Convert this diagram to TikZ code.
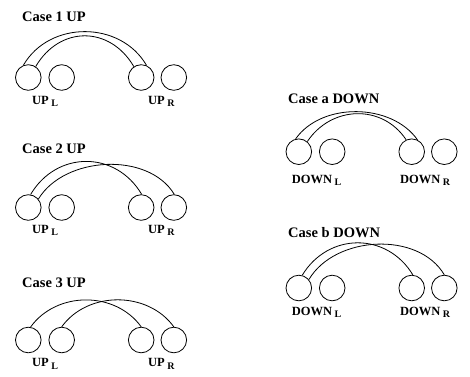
\documentclass[tikz,border=0pt]{standalone}
\usepackage{fontspec}
\setmainfont{Liberation Serif}
\newcommand\lowsub[1]{\hspace{2.5pt}\raisebox{-0.5ex}{\fontsize{10}{10}\selectfont #1}}
\begin{document}
\begin{tikzpicture}[x=1pt, y=-1pt,
    ring/.style={circle, draw, line width=0.8pt, minimum size=25.6pt, inner sep=0pt},
    casetitle/.style={anchor=base west, inner sep=0pt, font=\bfseries\fontsize{14.5}{14.5}\selectfont},
    sidelabel/.style={anchor=base west, inner sep=0pt, font=\bfseries\fontsize{12.5}{12.5}\selectfont},
    arch/.style={line width=0.8pt}]
  \useasboundingbox (0,0) rectangle (470,376);

  % four circles per case, up cases left, down cases right
  \foreach \n/\x/\y in {1/0/77.5, 2/0/207.5, 3/0/340, a/270.5/151.7, b/270.5/288} {
    \node[ring] (\n-1) at (28.3+\x,\y) {};
    \node[ring] (\n-2) at (61.7+\x,\y) {};
    \node[ring] (\n-3) at (141.2+\x,\y) {};
    \node[ring] (\n-4) at (173.8+\x,\y) {};
  }

  \node[casetitle] (t1) at (22,21) {Case 1 UP};
  \node[casetitle] (t2) at (22,153) {Case 2 UP};
  \node[casetitle] (t3) at (22,287) {Case 3 UP};
  \node[casetitle] (ta) at (288,103) {Case a DOWN};
  \node[casetitle] (tb) at (288,237) {Case b DOWN};

  \foreach \n/\y in {1/104, 2/233, 3/366.5} {
    \node[sidelabel] (\n-l) at (32,\y) {UP\lowsub{L}};
    \node[sidelabel] (\n-r) at (148,\y) {UP\lowsub{R}};
  }
  \foreach \n/\y in {a/183, b/315} {
    \node[sidelabel] (\n-l) at (291.7,\y) {DOWN\lowsub{L}};
    \node[sidelabel] (\n-r) at (400,\y) {DOWN\lowsub{R}};
  }

  % arches
  \draw[arch] (1-1.112) .. controls +(26,-45) and +(-26,-45) .. (1-3.66);
  \draw[arch] (1-1.56) .. controls +(24,-41) and +(-24,-41) .. (1-3.124);

  \draw[arch] (2-1.80) .. controls +(26,-44) and +(-26,-44) .. (2-3.88);
  \draw[arch] (2-1.40) .. controls +(26,-43) and +(-26,-43) .. (2-4.88);

  \draw[arch] (3-1.80) .. controls +(26,-36) and +(-26,-36) .. (3-3.90);
  \draw[arch] (3-2.90) .. controls +(26,-36) and +(-26,-36) .. (3-4.90);

  \draw[arch] (a-1.104) .. controls +(26,-37) and +(-26,-37) .. (a-3.64);
  \draw[arch] (a-1.50) .. controls +(24,-36) and +(-24,-36) .. (a-3.115);

  \draw[arch] (b-1.75) .. controls +(26,-43) and +(-26,-43) .. (b-3.85);
  \draw[arch] (b-1.40) .. controls +(26,-44) and +(-26,-44) .. (b-4.90);
\end{tikzpicture}
\end{document}
